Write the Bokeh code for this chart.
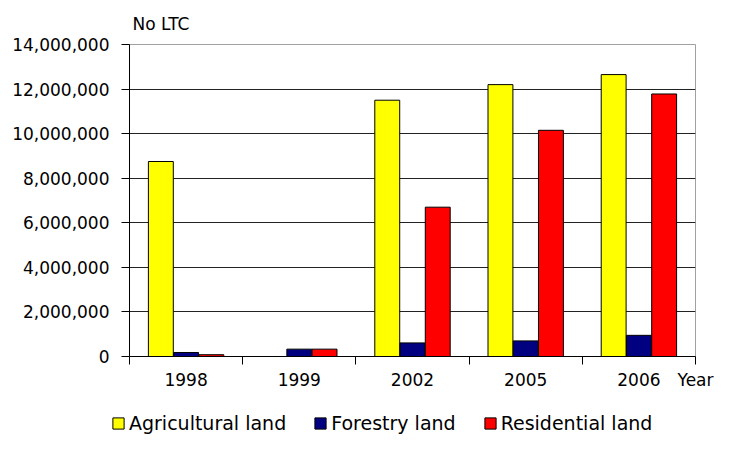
from bokeh.plotting import figure
from bokeh.models import (FixedTicker, NumeralTickFormatter, Range1d, Legend, LegendItem, ColumnDataSource)
from bokeh.transform import dodge
from bokeh.embed import file_html
from bokeh.resources import INLINE

years = ["1998", "1999", "2002", "2005", "2006"]
x_title = "Year"
agricultural = [8750000, 0, 11500000, 12200000, 12650000]
forestry = [180000, 330000, 610000, 700000, 950000]
residential = [80000, 330000, 6700000, 10150000, 11780000]
series_names = ["Agricultural land", "Forestry land", "Residential land"]
series_colors = ["#FFFF00", "#000080", "#FF0000"]
y_ticks = [0, 2000000, 4000000, 6000000, 8000000, 10000000, 12000000, 14000000]

FONT = "DejaVu Sans"
n = len(years)
centers = [i + 0.5 for i in range(n)]

p = figure(width=715, height=392, output_backend="svg", toolbar_location=None,
           x_range=Range1d(0, n), y_range=Range1d(0, y_ticks[-1]),
           min_border_left=129, min_border_right=20, min_border_top=44, min_border_bottom=34)

p.title.text = "No LTC"
p.title.text_font = FONT
p.title.text_font_size = "17px"
p.title.text_font_style = "normal"
p.title.text_color = "black"
p.title.align = "left"
p.title.offset = 3
p.title.standoff = 22

src = ColumnDataSource(dict(x=centers, agr=agricultural, forr=forestry, res=residential))
w = 0.22
p.vbar(x=dodge("x", -0.223), top="agr", width=w, source=src, fill_color=series_colors[0], line_color="black", line_width=1)
p.vbar(x=dodge("x", 0.0), top="forr", width=w, source=src, fill_color=series_colors[1], line_color="black", line_width=1)
p.vbar(x=dodge("x", 0.223), top="res", width=w, source=src, fill_color=series_colors[2], line_color="black", line_width=1)

xa = p.xaxis[0]
xa.ticker = FixedTicker(ticks=centers + [n], minor_ticks=list(range(n + 1)))
overrides = {c: y for c, y in zip(centers, years)}
overrides[n] = x_title
xa.major_label_overrides = overrides
xa.major_tick_out = 0
xa.major_tick_in = 0
xa.minor_tick_out = 8
xa.minor_tick_in = 0
xa.minor_tick_line_color = "black"
xa.axis_line_color = "black"
xa.major_label_text_font = FONT
xa.major_label_text_font_size = "17px"
xa.major_label_text_color = "black"
xa.major_label_standoff = 5

ya = p.yaxis[0]
ya.ticker = FixedTicker(ticks=y_ticks, minor_ticks=[])
ya.formatter = NumeralTickFormatter(format="0,0")
ya.major_tick_out = 8
ya.major_tick_in = 0
ya.major_tick_line_color = "black"
ya.axis_line_color = "black"
ya.major_label_text_font = FONT
ya.major_label_text_font_size = "17px"
ya.major_label_text_color = "black"
ya.major_label_standoff = 12

p.xgrid.visible = False
p.ygrid.ticker = FixedTicker(ticks=y_ticks[1:-1])
p.ygrid.grid_line_color = "#222222"
p.ygrid.grid_line_width = 1
p.outline_line_color = "#a0a0a0"
p.background_fill_color = "white"
p.border_fill_color = "white"

# legend strip (separate root so its frame spans the full width)
lg = figure(width=715, height=42, output_backend="svg", toolbar_location=None,
            x_range=Range1d(0, 1), y_range=Range1d(0, 1),
            min_border_left=0, min_border_right=0, min_border_top=0, min_border_bottom=0)
lg.axis.visible = False
lg.grid.visible = False
lg.outline_line_color = None
lg_src = ColumnDataSource(dict(x=[0.99], top=[0.99], bottom=[0.99]))
items = []
for name, col in zip(series_names, series_colors):
    r = lg.vbar(x="x", top="top", bottom="bottom", width=0, source=lg_src,
                fill_color=col, line_color="black", line_width=1)
    items.append(LegendItem(label=name, renderers=[r]))
legend = Legend(items=items, orientation="horizontal", location=(111, 0),
                label_text_font=FONT, label_text_font_size="19px", label_text_color="black",
                glyph_width=14, glyph_height=14, label_standoff=4, spacing=27,
                border_line_color=None, background_fill_alpha=0, padding=0, margin=0)
lg.add_layout(legend)

open("out.html", "w").write(file_html((p, lg), INLINE))
